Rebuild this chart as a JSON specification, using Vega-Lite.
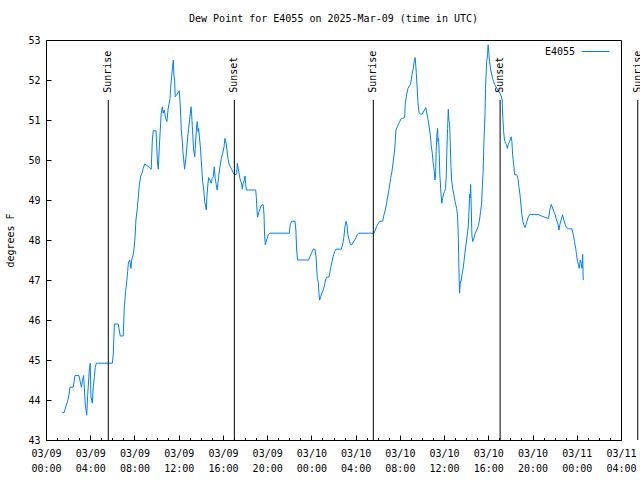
{
 "width": 575, "height": 400,
 "autosize": "none",
 "padding": {"left": 46, "top": 40, "right": 19, "bottom": 40},
 "background": "white",
 "config": {"font": "DejaVu Sans Mono", "view": {"stroke": "#000"},
  "axis": {"labelFontSize": 10, "titleFontSize": 10, "labelColor": "#000", "titleColor": "#000", "titleFontWeight": "normal", "domainColor": "#000", "tickColor": "#000", "grid": false}},
 "title": {"text": "Dew Point for E4055 on 2025-Mar-09 (time in UTC)", "fontSize": 10, "fontWeight": "normal", "color": "#000", "offset": 11},
 "resolve": {"axis": {"x": "independent", "y": "independent"}},
 "layer": [
  {
   "data": {"values": [
{"t":"2025-03-09T01:28:00Z","v":43.69},{"t":"2025-03-09T01:39:00Z","v":43.69},{"t":"2025-03-09T01:45:00Z","v":43.79},{"t":"2025-03-09T01:52:00Z","v":43.9},{"t":"2025-03-09T01:58:00Z","v":43.98},{"t":"2025-03-09T02:05:00Z","v":44.13},{"t":"2025-03-09T02:10:00Z","v":44.32},{"t":"2025-03-09T02:28:00Z","v":44.32},{"t":"2025-03-09T02:37:00Z","v":44.61},{"t":"2025-03-09T02:59:00Z","v":44.61},{"t":"2025-03-09T03:12:00Z","v":44.32},{"t":"2025-03-09T03:17:00Z","v":44.46},{"t":"2025-03-09T03:24:00Z","v":44.61},{"t":"2025-03-09T03:33:00Z","v":43.9},{"t":"2025-03-09T03:41:00Z","v":43.62},{"t":"2025-03-09T03:46:00Z","v":44.11},{"t":"2025-03-09T03:55:00Z","v":44.75},{"t":"2025-03-09T04:00:00Z","v":44.92},{"t":"2025-03-09T04:04:00Z","v":44.08},{"t":"2025-03-09T04:11:00Z","v":43.92},{"t":"2025-03-09T04:17:00Z","v":44.33},{"t":"2025-03-09T04:22:00Z","v":44.57},{"t":"2025-03-09T04:27:00Z","v":44.81},{"t":"2025-03-09T04:33:00Z","v":44.92},{"t":"2025-03-09T06:00:00Z","v":44.92},{"t":"2025-03-09T06:05:00Z","v":45.15},{"t":"2025-03-09T06:11:00Z","v":45.9},{"t":"2025-03-09T06:32:00Z","v":45.9},{"t":"2025-03-09T06:43:00Z","v":45.6},{"t":"2025-03-09T06:59:00Z","v":45.6},{"t":"2025-03-09T07:05:00Z","v":46.33},{"t":"2025-03-09T07:12:00Z","v":46.71},{"t":"2025-03-09T07:18:00Z","v":46.96},{"t":"2025-03-09T07:23:00Z","v":47.21},{"t":"2025-03-09T07:27:00Z","v":47.43},{"t":"2025-03-09T07:34:00Z","v":47.5},{"t":"2025-03-09T07:41:00Z","v":47.29},{"t":"2025-03-09T07:45:00Z","v":47.5},{"t":"2025-03-09T07:52:00Z","v":47.62},{"t":"2025-03-09T07:57:00Z","v":47.75},{"t":"2025-03-09T08:03:00Z","v":48.05},{"t":"2025-03-09T08:08:00Z","v":48.5},{"t":"2025-03-09T08:15:00Z","v":48.77},{"t":"2025-03-09T08:21:00Z","v":49.08},{"t":"2025-03-09T08:26:00Z","v":49.37},{"t":"2025-03-09T08:34:00Z","v":49.6},{"t":"2025-03-09T08:41:00Z","v":49.67},{"t":"2025-03-09T08:48:00Z","v":49.79},{"t":"2025-03-09T08:55:00Z","v":49.9},{"t":"2025-03-09T09:06:00Z","v":49.87},{"t":"2025-03-09T09:31:00Z","v":49.77},{"t":"2025-03-09T09:37:00Z","v":50.5},{"t":"2025-03-09T09:42:00Z","v":50.73},{"t":"2025-03-09T09:57:00Z","v":50.73},{"t":"2025-03-09T10:01:00Z","v":50.33},{"t":"2025-03-09T10:04:00Z","v":50.0},{"t":"2025-03-09T10:09:00Z","v":49.77},{"t":"2025-03-09T10:15:00Z","v":50.33},{"t":"2025-03-09T10:20:00Z","v":50.75},{"t":"2025-03-09T10:25:00Z","v":51.15},{"t":"2025-03-09T10:31:00Z","v":51.33},{"t":"2025-03-09T10:36:00Z","v":51.17},{"t":"2025-03-09T10:42:00Z","v":51.25},{"t":"2025-03-09T10:49:00Z","v":51.04},{"t":"2025-03-09T10:56:00Z","v":50.96},{"t":"2025-03-09T11:03:00Z","v":51.29},{"t":"2025-03-09T11:13:00Z","v":51.54},{"t":"2025-03-09T11:16:00Z","v":51.79},{"t":"2025-03-09T11:22:00Z","v":52.08},{"t":"2025-03-09T11:27:00Z","v":52.35},{"t":"2025-03-09T11:31:00Z","v":52.5},{"t":"2025-03-09T11:34:00Z","v":52.13},{"t":"2025-03-09T11:38:00Z","v":52.0},{"t":"2025-03-09T11:41:00Z","v":51.58},{"t":"2025-03-09T11:49:00Z","v":51.63},{"t":"2025-03-09T11:56:00Z","v":51.68},{"t":"2025-03-09T12:03:00Z","v":51.73},{"t":"2025-03-09T12:09:00Z","v":51.33},{"t":"2025-03-09T12:14:00Z","v":50.75},{"t":"2025-03-09T12:19:00Z","v":50.5},{"t":"2025-03-09T12:23:00Z","v":50.21},{"t":"2025-03-09T12:29:00Z","v":49.92},{"t":"2025-03-09T12:32:00Z","v":49.77},{"t":"2025-03-09T12:38:00Z","v":50.0},{"t":"2025-03-09T12:43:00Z","v":50.25},{"t":"2025-03-09T12:49:00Z","v":50.58},{"t":"2025-03-09T12:54:00Z","v":50.79},{"t":"2025-03-09T13:01:00Z","v":51.08},{"t":"2025-03-09T13:07:00Z","v":51.33},{"t":"2025-03-09T13:10:00Z","v":51.17},{"t":"2025-03-09T13:14:00Z","v":50.83},{"t":"2025-03-09T13:17:00Z","v":50.58},{"t":"2025-03-09T13:21:00Z","v":50.25},{"t":"2025-03-09T13:27:00Z","v":50.08},{"t":"2025-03-09T13:30:00Z","v":50.29},{"t":"2025-03-09T13:34:00Z","v":50.63},{"t":"2025-03-09T13:38:00Z","v":50.88},{"t":"2025-03-09T13:41:00Z","v":50.96},{"t":"2025-03-09T13:45:00Z","v":50.71},{"t":"2025-03-09T13:48:00Z","v":50.79},{"t":"2025-03-09T13:54:00Z","v":50.5},{"t":"2025-03-09T13:59:00Z","v":50.25},{"t":"2025-03-09T14:05:00Z","v":49.79},{"t":"2025-03-09T14:10:00Z","v":49.46},{"t":"2025-03-09T14:16:00Z","v":49.25},{"t":"2025-03-09T14:21:00Z","v":48.96},{"t":"2025-03-09T14:26:00Z","v":48.85},{"t":"2025-03-09T14:30:00Z","v":48.75},{"t":"2025-03-09T14:33:00Z","v":49.08},{"t":"2025-03-09T14:39:00Z","v":49.42},{"t":"2025-03-09T14:43:00Z","v":49.56},{"t":"2025-03-09T14:50:00Z","v":49.5},{"t":"2025-03-09T14:57:00Z","v":49.42},{"t":"2025-03-09T15:02:00Z","v":49.54},{"t":"2025-03-09T15:08:00Z","v":49.58},{"t":"2025-03-09T15:13:00Z","v":49.83},{"t":"2025-03-09T15:18:00Z","v":49.54},{"t":"2025-03-09T15:24:00Z","v":49.38},{"t":"2025-03-09T15:29:00Z","v":49.25},{"t":"2025-03-09T15:33:00Z","v":49.42},{"t":"2025-03-09T15:39:00Z","v":49.67},{"t":"2025-03-09T15:44:00Z","v":49.83},{"t":"2025-03-09T15:51:00Z","v":50.04},{"t":"2025-03-09T15:59:00Z","v":50.17},{"t":"2025-03-09T16:06:00Z","v":50.33},{"t":"2025-03-09T16:11:00Z","v":50.54},{"t":"2025-03-09T16:17:00Z","v":50.42},{"t":"2025-03-09T16:22:00Z","v":50.25},{"t":"2025-03-09T16:27:00Z","v":50.04},{"t":"2025-03-09T16:33:00Z","v":49.9},{"t":"2025-03-09T16:40:00Z","v":49.83},{"t":"2025-03-09T16:47:00Z","v":49.77},{"t":"2025-03-09T16:56:00Z","v":49.68},{"t":"2025-03-09T17:05:00Z","v":49.63},{"t":"2025-03-09T17:15:00Z","v":49.65},{"t":"2025-03-09T17:18:00Z","v":49.92},{"t":"2025-03-09T17:23:00Z","v":49.79},{"t":"2025-03-09T17:29:00Z","v":49.63},{"t":"2025-03-09T17:34:00Z","v":49.5},{"t":"2025-03-09T17:42:00Z","v":49.4},{"t":"2025-03-09T17:45:00Z","v":49.27},{"t":"2025-03-09T17:50:00Z","v":49.42},{"t":"2025-03-09T17:56:00Z","v":49.5},{"t":"2025-03-09T18:00:00Z","v":49.6},{"t":"2025-03-09T18:03:00Z","v":49.42},{"t":"2025-03-09T18:07:00Z","v":49.25},{"t":"2025-03-09T18:58:00Z","v":49.25},{"t":"2025-03-09T19:01:00Z","v":49.08},{"t":"2025-03-09T19:05:00Z","v":48.75},{"t":"2025-03-09T19:08:00Z","v":48.57},{"t":"2025-03-09T19:16:00Z","v":48.71},{"t":"2025-03-09T19:25:00Z","v":48.83},{"t":"2025-03-09T19:32:00Z","v":48.88},{"t":"2025-03-09T19:39:00Z","v":48.88},{"t":"2025-03-09T19:43:00Z","v":48.63},{"t":"2025-03-09T19:46:00Z","v":48.13},{"t":"2025-03-09T19:50:00Z","v":47.88},{"t":"2025-03-09T19:57:00Z","v":48.0},{"t":"2025-03-09T20:06:00Z","v":48.13},{"t":"2025-03-09T20:15:00Z","v":48.17},{"t":"2025-03-09T22:00:00Z","v":48.17},{"t":"2025-03-09T22:05:00Z","v":48.38},{"t":"2025-03-09T22:13:00Z","v":48.47},{"t":"2025-03-09T22:31:00Z","v":48.47},{"t":"2025-03-09T22:36:00Z","v":48.25},{"t":"2025-03-09T22:40:00Z","v":47.75},{"t":"2025-03-09T22:45:00Z","v":47.5},{"t":"2025-03-09T23:45:00Z","v":47.5},{"t":"2025-03-09T23:52:00Z","v":47.58},
{"t":"2025-03-10T00:01:00Z","v":47.68},{"t":"2025-03-10T00:10:00Z","v":47.77},{"t":"2025-03-10T00:19:00Z","v":47.77},{"t":"2025-03-10T00:25:00Z","v":47.6},{"t":"2025-03-10T00:32:00Z","v":47.04},{"t":"2025-03-10T00:37:00Z","v":46.96},{"t":"2025-03-10T00:41:00Z","v":46.67},{"t":"2025-03-10T00:45:00Z","v":46.5},{"t":"2025-03-10T00:50:00Z","v":46.58},{"t":"2025-03-10T00:57:00Z","v":46.67},{"t":"2025-03-10T01:04:00Z","v":46.75},{"t":"2025-03-10T01:12:00Z","v":46.88},{"t":"2025-03-10T01:17:00Z","v":47.0},{"t":"2025-03-10T01:23:00Z","v":47.07},{"t":"2025-03-10T01:35:00Z","v":47.07},{"t":"2025-03-10T01:41:00Z","v":47.21},{"t":"2025-03-10T01:46:00Z","v":47.33},{"t":"2025-03-10T01:52:00Z","v":47.46},{"t":"2025-03-10T01:59:00Z","v":47.6},{"t":"2025-03-10T02:06:00Z","v":47.71},{"t":"2025-03-10T02:13:00Z","v":47.77},{"t":"2025-03-10T02:42:00Z","v":47.77},{"t":"2025-03-10T02:47:00Z","v":47.85},{"t":"2025-03-10T02:53:00Z","v":47.96},{"t":"2025-03-10T02:57:00Z","v":48.1},{"t":"2025-03-10T03:02:00Z","v":48.33},{"t":"2025-03-10T03:08:00Z","v":48.47},{"t":"2025-03-10T03:13:00Z","v":48.38},{"t":"2025-03-10T03:18:00Z","v":48.13},{"t":"2025-03-10T03:25:00Z","v":48.0},{"t":"2025-03-10T03:33:00Z","v":47.88},{"t":"2025-03-10T03:40:00Z","v":47.88},{"t":"2025-03-10T03:47:00Z","v":47.94},{"t":"2025-03-10T03:55:00Z","v":48.0},{"t":"2025-03-10T04:02:00Z","v":48.06},{"t":"2025-03-10T04:09:00Z","v":48.13},{"t":"2025-03-10T04:16:00Z","v":48.17},{"t":"2025-03-10T05:39:00Z","v":48.17},{"t":"2025-03-10T05:47:00Z","v":48.25},{"t":"2025-03-10T05:54:00Z","v":48.34},{"t":"2025-03-10T06:01:00Z","v":48.4},{"t":"2025-03-10T06:12:00Z","v":48.47},{"t":"2025-03-10T06:27:00Z","v":48.47},{"t":"2025-03-10T06:34:00Z","v":48.63},{"t":"2025-03-10T06:41:00Z","v":48.75},{"t":"2025-03-10T06:48:00Z","v":48.92},{"t":"2025-03-10T06:55:00Z","v":49.1},{"t":"2025-03-10T07:02:00Z","v":49.29},{"t":"2025-03-10T07:10:00Z","v":49.54},{"t":"2025-03-10T07:17:00Z","v":49.71},{"t":"2025-03-10T07:24:00Z","v":49.96},{"t":"2025-03-10T07:32:00Z","v":50.25},{"t":"2025-03-10T07:39:00Z","v":50.75},{"t":"2025-03-10T07:46:00Z","v":50.83},{"t":"2025-03-10T07:53:00Z","v":50.9},{"t":"2025-03-10T08:00:00Z","v":50.97},{"t":"2025-03-10T08:08:00Z","v":51.04},{"t":"2025-03-10T08:15:00Z","v":51.04},{"t":"2025-03-10T08:26:00Z","v":51.06},{"t":"2025-03-10T08:29:00Z","v":51.39},{"t":"2025-03-10T08:37:00Z","v":51.64},{"t":"2025-03-10T08:44:00Z","v":51.79},{"t":"2025-03-10T08:51:00Z","v":51.85},{"t":"2025-03-10T08:58:00Z","v":51.89},{"t":"2025-03-10T09:06:00Z","v":52.13},{"t":"2025-03-10T09:13:00Z","v":52.29},{"t":"2025-03-10T09:18:00Z","v":52.47},{"t":"2025-03-10T09:23:00Z","v":52.56},{"t":"2025-03-10T09:27:00Z","v":52.33},{"t":"2025-03-10T09:33:00Z","v":51.88},{"t":"2025-03-10T09:38:00Z","v":51.46},{"t":"2025-03-10T09:44:00Z","v":51.18},{"t":"2025-03-10T09:53:00Z","v":51.15},{"t":"2025-03-10T10:01:00Z","v":51.14},{"t":"2025-03-10T10:07:00Z","v":51.2},{"t":"2025-03-10T10:14:00Z","v":51.25},{"t":"2025-03-10T10:21:00Z","v":51.31},{"t":"2025-03-10T10:25:00Z","v":51.2},{"t":"2025-03-10T10:32:00Z","v":51.04},{"t":"2025-03-10T10:39:00Z","v":50.83},{"t":"2025-03-10T10:45:00Z","v":50.63},{"t":"2025-03-10T10:50:00Z","v":50.38},{"t":"2025-03-10T10:56:00Z","v":50.17},{"t":"2025-03-10T11:01:00Z","v":49.92},{"t":"2025-03-10T11:07:00Z","v":49.71},{"t":"2025-03-10T11:10:00Z","v":49.5},{"t":"2025-03-10T11:14:00Z","v":49.63},{"t":"2025-03-10T11:17:00Z","v":50.21},{"t":"2025-03-10T11:21:00Z","v":50.63},{"t":"2025-03-10T11:25:00Z","v":50.79},{"t":"2025-03-10T11:27:00Z","v":50.46},{"t":"2025-03-10T11:30:00Z","v":50.54},{"t":"2025-03-10T11:34:00Z","v":50.13},{"t":"2025-03-10T11:37:00Z","v":49.63},{"t":"2025-03-10T11:43:00Z","v":49.17},{"t":"2025-03-10T11:48:00Z","v":48.92},{"t":"2025-03-10T11:52:00Z","v":49.04},{"t":"2025-03-10T11:58:00Z","v":49.17},{"t":"2025-03-10T12:03:00Z","v":49.21},{"t":"2025-03-10T12:08:00Z","v":49.29},{"t":"2025-03-10T12:12:00Z","v":49.63},{"t":"2025-03-10T12:15:00Z","v":50.21},{"t":"2025-03-10T12:19:00Z","v":50.79},{"t":"2025-03-10T12:23:00Z","v":51.27},{"t":"2025-03-10T12:26:00Z","v":50.98},{"t":"2025-03-10T12:30:00Z","v":50.92},{"t":"2025-03-10T12:33:00Z","v":50.5},{"t":"2025-03-10T12:37:00Z","v":49.88},{"t":"2025-03-10T12:41:00Z","v":49.5},{"t":"2025-03-10T12:46:00Z","v":49.29},{"t":"2025-03-10T12:53:00Z","v":49.13},{"t":"2025-03-10T13:00:00Z","v":48.96},{"t":"2025-03-10T13:08:00Z","v":48.79},{"t":"2025-03-10T13:13:00Z","v":48.63},{"t":"2025-03-10T13:17:00Z","v":48.13},{"t":"2025-03-10T13:21:00Z","v":47.17},{"t":"2025-03-10T13:24:00Z","v":46.67},{"t":"2025-03-10T13:28:00Z","v":46.92},{"t":"2025-03-10T13:33:00Z","v":47.0},{"t":"2025-03-10T13:37:00Z","v":47.13},{"t":"2025-03-10T13:42:00Z","v":47.25},{"t":"2025-03-10T13:48:00Z","v":47.46},{"t":"2025-03-10T13:53:00Z","v":47.67},{"t":"2025-03-10T13:59:00Z","v":47.88},{"t":"2025-03-10T14:06:00Z","v":48.13},{"t":"2025-03-10T14:11:00Z","v":48.33},{"t":"2025-03-10T14:15:00Z","v":48.71},{"t":"2025-03-10T14:19:00Z","v":49.14},{"t":"2025-03-10T14:22:00Z","v":49.05},{"t":"2025-03-10T14:24:00Z","v":49.39},{"t":"2025-03-10T14:27:00Z","v":48.9},{"t":"2025-03-10T14:31:00Z","v":48.13},{"t":"2025-03-10T14:35:00Z","v":47.96},{"t":"2025-03-10T14:42:00Z","v":48.05},{"t":"2025-03-10T14:49:00Z","v":48.17},{"t":"2025-03-10T14:57:00Z","v":48.25},{"t":"2025-03-10T15:04:00Z","v":48.33},{"t":"2025-03-10T15:11:00Z","v":48.46},{"t":"2025-03-10T15:18:00Z","v":48.71},{"t":"2025-03-10T15:24:00Z","v":48.92},{"t":"2025-03-10T15:27:00Z","v":49.29},{"t":"2025-03-10T15:32:00Z","v":49.71},{"t":"2025-03-10T15:36:00Z","v":50.42},{"t":"2025-03-10T15:42:00Z","v":51.13},{"t":"2025-03-10T15:45:00Z","v":51.79},{"t":"2025-03-10T15:51:00Z","v":52.46},{"t":"2025-03-10T15:56:00Z","v":52.63},{"t":"2025-03-10T15:59:00Z","v":52.88},{"t":"2025-03-10T16:03:00Z","v":52.67},{"t":"2025-03-10T16:07:00Z","v":52.46},{"t":"2025-03-10T16:13:00Z","v":52.25},{"t":"2025-03-10T16:18:00Z","v":52.15},{"t":"2025-03-10T16:23:00Z","v":52.04},{"t":"2025-03-10T16:29:00Z","v":51.96},{"t":"2025-03-10T16:34:00Z","v":51.89},{"t":"2025-03-10T16:41:00Z","v":51.83},{"t":"2025-03-10T16:48:00Z","v":51.78},{"t":"2025-03-10T16:56:00Z","v":51.72},{"t":"2025-03-10T17:03:00Z","v":51.67},{"t":"2025-03-10T17:10:00Z","v":51.6},{"t":"2025-03-10T17:15:00Z","v":51.5},{"t":"2025-03-10T17:19:00Z","v":51.04},{"t":"2025-03-10T17:23:00Z","v":50.71},{"t":"2025-03-10T17:28:00Z","v":50.5},{"t":"2025-03-10T17:34:00Z","v":50.42},{"t":"2025-03-10T17:39:00Z","v":50.38},{"t":"2025-03-10T17:43:00Z","v":50.29},{"t":"2025-03-10T17:48:00Z","v":50.38},{"t":"2025-03-10T17:53:00Z","v":50.44},{"t":"2025-03-10T17:59:00Z","v":50.5},{"t":"2025-03-10T18:04:00Z","v":50.58},{"t":"2025-03-10T18:08:00Z","v":50.46},{"t":"2025-03-10T18:12:00Z","v":50.13},{"t":"2025-03-10T18:17:00Z","v":49.92},{"t":"2025-03-10T18:23:00Z","v":49.63},{"t":"2025-03-10T18:34:00Z","v":49.63},{"t":"2025-03-10T18:41:00Z","v":49.54},{"t":"2025-03-10T18:46:00Z","v":49.33},{"t":"2025-03-10T18:52:00Z","v":49.13},{"t":"2025-03-10T18:57:00Z","v":48.88},{"t":"2025-03-10T19:02:00Z","v":48.63},{"t":"2025-03-10T19:08:00Z","v":48.46},{"t":"2025-03-10T19:13:00Z","v":48.38},{"t":"2025-03-10T19:19:00Z","v":48.31},{"t":"2025-03-10T19:24:00Z","v":48.38},{"t":"2025-03-10T19:30:00Z","v":48.47},{"t":"2025-03-10T19:37:00Z","v":48.58},{"t":"2025-03-10T19:46:00Z","v":48.64},{"t":"2025-03-10T20:31:00Z","v":48.64},{"t":"2025-03-10T20:49:00Z","v":48.6},{"t":"2025-03-10T21:12:00Z","v":48.56},{"t":"2025-03-10T21:27:00Z","v":48.54},{"t":"2025-03-10T21:34:00Z","v":48.75},{"t":"2025-03-10T21:41:00Z","v":48.89},{"t":"2025-03-10T21:49:00Z","v":48.8},{"t":"2025-03-10T21:56:00Z","v":48.71},{"t":"2025-03-10T22:03:00Z","v":48.63},{"t":"2025-03-10T22:10:00Z","v":48.5},{"t":"2025-03-10T22:18:00Z","v":48.4},{"t":"2025-03-10T22:23:00Z","v":48.25},{"t":"2025-03-10T22:28:00Z","v":48.38},{"t":"2025-03-10T22:35:00Z","v":48.5},{"t":"2025-03-10T22:43:00Z","v":48.63},{"t":"2025-03-10T22:50:00Z","v":48.5},{"t":"2025-03-10T22:57:00Z","v":48.39},{"t":"2025-03-10T23:05:00Z","v":48.31},{"t":"2025-03-10T23:16:00Z","v":48.28},{"t":"2025-03-10T23:34:00Z","v":48.28},{"t":"2025-03-10T23:41:00Z","v":48.13},{"t":"2025-03-10T23:48:00Z","v":47.96},{"t":"2025-03-10T23:54:00Z","v":47.79},{"t":"2025-03-10T23:59:00Z","v":47.63},
{"t":"2025-03-11T00:04:00Z","v":47.46},{"t":"2025-03-11T00:10:00Z","v":47.38},{"t":"2025-03-11T00:13:00Z","v":47.29},{"t":"2025-03-11T00:19:00Z","v":47.5},{"t":"2025-03-11T00:24:00Z","v":47.42},{"t":"2025-03-11T00:29:00Z","v":47.29},{"t":"2025-03-11T00:32:00Z","v":47.64},{"t":"2025-03-11T00:35:00Z","v":47.0}
   ]},
   "mark": {"type": "line", "strokeWidth": 1},
   "encoding": {
    "x": {"field": "t", "type": "temporal",
     "scale": {"domain": [1741478400000, 1741665600000], "nice": false},
     "axis": {"title": null, "orient": "bottom",
      "values": [1741478400000,1741482000000,1741485600000,1741489200000,1741492800000,1741496400000,1741500000000,1741503600000,1741507200000,1741510800000,1741514400000,1741518000000,1741521600000,1741525200000,1741528800000,1741532400000,1741536000000,1741539600000,1741543200000,1741546800000,1741550400000,1741554000000,1741557600000,1741561200000,1741564800000,1741568400000,1741572000000,1741575600000,1741579200000,1741582800000,1741586400000,1741590000000,1741593600000,1741597200000,1741600800000,1741604400000,1741608000000,1741611600000,1741615200000,1741618800000,1741622400000,1741626000000,1741629600000,1741633200000,1741636800000,1741640400000,1741644000000,1741647600000,1741651200000,1741654800000,1741658400000,1741662000000,1741665600000],
      "tickSize": {"condition": {"test": "hours(datum.value) % 4 == 0", "value": -5}, "value": -2.5},
      "labelExpr": "hours(datum.value) % 4 == 0 ? [timeFormat(datum.value, '%m/%d'), timeFormat(datum.value, '%H:%M')] : ''",
      "labelPadding": 13, "labelLineHeight": 15, "labelOverlap": false, "labelFlush": false, "labelBound": false}},
    "y": {"field": "v", "type": "quantitative", "scale": {"domain": [43, 53], "nice": false, "zero": false},
     "axis": {"title": "degrees F", "orient": "left", "values": [43,44,45,46,47,48,49,50,51,52,53], "tickSize": -5, "labelPadding": 11, "titlePadding": 12, "labelOverlap": false}},
    "color": {"datum": "E4055", "scale": {"range": ["#0080ff"]},
     "legend": {"orient": "none", "legendX": 535, "legendY": -3, "title": null, "symbolType": "stroke", "symbolSize": 784, "symbolStrokeWidth": 1, "labelAlign": "right", "labelOffset": -35, "labelFontSize": 10, "labelColor": "#000", "padding": 0}}
   }
  },
  {
   "data": {"values": [
    {"t": "2025-03-09T05:38:00Z", "label": "Sunrise"},
    {"t": "2025-03-09T17:02:00Z", "label": "Sunset"},
    {"t": "2025-03-10T05:36:00Z", "label": "Sunrise"},
    {"t": "2025-03-10T17:04:00Z", "label": "Sunset"},
    {"t": "2025-03-11T05:31:00Z", "label": "Sunrise"}
   ]},
   "layer": [
    {"mark": {"type": "rule", "color": "#000", "strokeWidth": 1, "clip": false},
     "encoding": {
      "x": {"field": "t", "type": "temporal",
       "axis": {"title": null, "orient": "top", "labels": false, "domain": false,
        "values": [1741478400000,1741482000000,1741485600000,1741489200000,1741492800000,1741496400000,1741500000000,1741503600000,1741507200000,1741510800000,1741514400000,1741518000000,1741521600000,1741525200000,1741528800000,1741532400000,1741536000000,1741539600000,1741543200000,1741546800000,1741550400000,1741554000000,1741557600000,1741561200000,1741564800000,1741568400000,1741572000000,1741575600000,1741579200000,1741582800000,1741586400000,1741590000000,1741593600000,1741597200000,1741600800000,1741604400000,1741608000000,1741611600000,1741615200000,1741618800000,1741622400000,1741626000000,1741629600000,1741633200000,1741636800000,1741640400000,1741644000000,1741647600000,1741651200000,1741654800000,1741658400000,1741662000000,1741665600000],
        "tickSize": {"condition": {"test": "hours(datum.value) % 4 == 0", "value": -5}, "value": -2.5}}},
      "y": {"datum": 43, "type": "quantitative",
       "axis": {"title": null, "orient": "right", "labels": false, "domain": false, "values": [43,44,45,46,47,48,49,50,51,52,53], "tickSize": -5}},
      "y2": {"datum": 51.5}
     }},
    {"mark": {"type": "text", "angle": 270, "align": "left", "baseline": "middle", "fontSize": 10, "color": "#000", "clip": false},
     "encoding": {
      "x": {"field": "t", "type": "temporal", "axis": null},
      "y": {"datum": 51.68, "type": "quantitative", "axis": null},
      "text": {"field": "label"}
     }}
   ]
  }
 ]
}
